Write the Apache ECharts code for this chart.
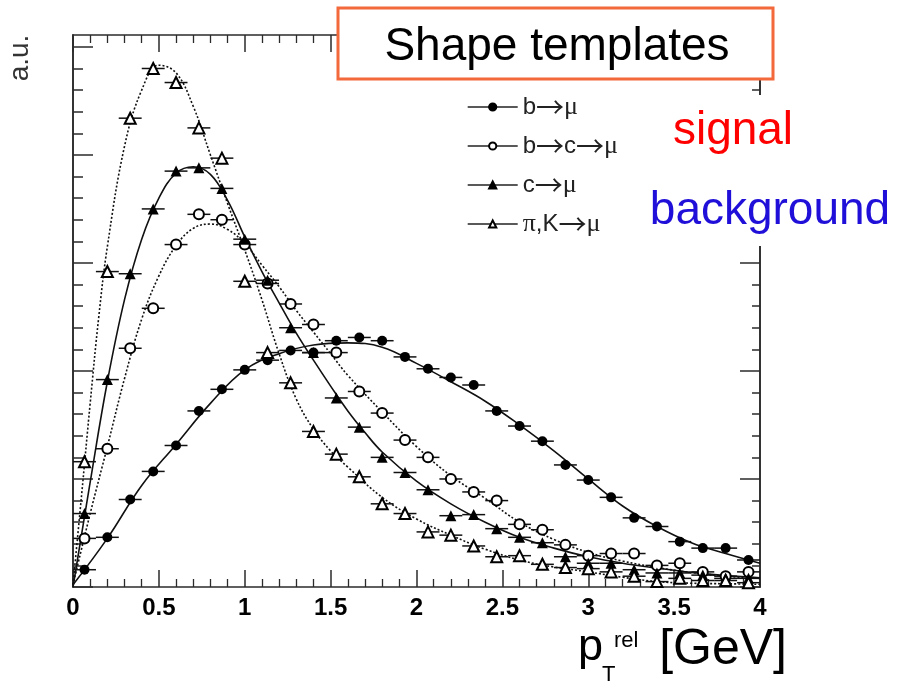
<!DOCTYPE html>
<html>
<head>
<meta charset="utf-8">
<script src="https://cdn.jsdelivr.net/npm/echarts@6/dist/echarts.min.js"></script>
<style>
  html, body { margin: 0; padding: 0; background: #fff; }
  #chart { width: 899px; height: 684px; }
</style>
</head>
<body>
<div id="chart"></div>
<script>
// p_T^rel template histograms: 30 bins of width 4/30 GeV between 0 and 4 GeV
const BIN_CENTERS = [0.067, 0.2, 0.333, 0.467, 0.6, 0.733, 0.867, 1.0, 1.133, 1.267,
                     1.4, 1.533, 1.667, 1.8, 1.933, 2.067, 2.2, 2.333, 2.467, 2.6,
                     2.733, 2.867, 3.0, 3.133, 3.267, 3.4, 3.533, 3.667, 3.8, 3.933];
const BIN_HALF_WIDTH = 0.0667;

// bin contents (arbitrary units)
const B_MU   = [0.16, 0.46, 0.81, 1.07, 1.31, 1.63, 1.83, 2.01, 2.10, 2.19,
                2.17, 2.28, 2.31, 2.28, 2.13, 2.02, 1.94, 1.87, 1.63, 1.49,
                1.35, 1.13, 0.99, 0.83, 0.64, 0.56, 0.42, 0.36, 0.36, 0.25];
const BC_MU  = [0.45, 1.28, 2.21, 2.58, 3.17, 3.45, 3.40, 3.17, 2.81, 2.62,
                2.43, 2.17, 1.81, 1.61, 1.36, 1.20, 1.00, 0.88, 0.80, 0.58,
                0.53, 0.39, 0.29, 0.31, 0.31, 0.20, 0.22, 0.14, 0.10, 0.14];
const C_MU   = [0.68, 1.92, 2.90, 3.50, 3.85, 3.88, 3.69, 3.22, 2.84, 2.40,
                2.17, 1.75, 1.48, 1.20, 1.06, 0.90, 0.66, 0.67, 0.54, 0.46,
                0.41, 0.28, 0.22, 0.22, 0.16, 0.13, 0.13, 0.11, 0.08, 0.08];
const PIK_MU = [1.16, 2.92, 4.34, 4.80, 4.67, 4.25, 3.97, 2.83, 2.17, 1.89,
                1.44, 1.23, 1.02, 0.77, 0.68, 0.51, 0.48, 0.38, 0.28, 0.29,
                0.21, 0.18, 0.17, 0.14, 0.10, 0.05, 0.08, 0.06, 0.06, 0.04];

// fitted template shapes, sampled as [p_T^rel, value]
const FIT_B_MU = [[0, 0.02], [0.2, 0.45], [0.4, 0.94], [0.6, 1.32], [0.8, 1.70], [1.0, 2.01],
                  [1.2, 2.16], [1.4, 2.24], [1.6, 2.26], [1.8, 2.22], [2.0, 2.07], [2.2, 1.90],
                  [2.4, 1.72], [2.6, 1.50], [2.8, 1.26], [3.0, 1.00], [3.2, 0.75], [3.4, 0.56],
                  [3.6, 0.41], [3.8, 0.31], [4.0, 0.22]];
const FIT_BC_MU = [[0, 0.02], [0.1, 0.68], [0.2, 1.30], [0.3, 1.93], [0.4, 2.48], [0.5, 2.88],
                   [0.6, 3.16], [0.7, 3.32], [0.8, 3.36], [0.9, 3.31], [1.0, 3.18], [1.1, 2.98],
                   [1.2, 2.78], [1.3, 2.56], [1.4, 2.36], [1.5, 2.16], [1.6, 1.96], [1.8, 1.62],
                   [2.0, 1.30], [2.2, 1.03], [2.4, 0.82], [2.6, 0.60], [2.8, 0.44], [3.0, 0.32],
                   [3.2, 0.24], [3.4, 0.18], [3.6, 0.135], [3.8, 0.10], [4.0, 0.08]];
const FIT_C_MU = [[0, 0.0], [0.1, 0.97], [0.2, 1.90], [0.3, 2.66], [0.4, 3.22], [0.5, 3.60],
                  [0.6, 3.83], [0.7, 3.89], [0.8, 3.82], [0.9, 3.58], [1.0, 3.24], [1.1, 2.92],
                  [1.2, 2.63], [1.3, 2.35], [1.4, 2.10], [1.5, 1.86], [1.6, 1.63], [1.7, 1.43],
                  [1.8, 1.25], [2.0, 0.98], [2.2, 0.77], [2.4, 0.60], [2.6, 0.46], [2.8, 0.36],
                  [3.0, 0.28], [3.2, 0.22], [3.4, 0.175], [3.6, 0.135], [3.8, 0.105], [4.0, 0.085]];
const FIT_PIK_MU = [[0, 0.02], [0.05, 0.85], [0.1, 1.70], [0.15, 2.50], [0.2, 3.15], [0.3, 4.08],
                    [0.4, 4.60], [0.5, 4.83], [0.6, 4.76], [0.7, 4.45], [0.8, 4.00], [0.9, 3.55],
                    [1.0, 3.12], [1.1, 2.66], [1.2, 2.16], [1.3, 1.74], [1.4, 1.46], [1.5, 1.26],
                    [1.6, 1.11], [1.8, 0.83], [2.0, 0.63], [2.2, 0.48], [2.4, 0.35], [2.6, 0.25],
                    [2.8, 0.185], [3.0, 0.14], [3.2, 0.09], [3.4, 0.05], [3.6, 0.035], [3.8, 0.03],
                    [4.0, 0.025]];

// axis ranges and tick positions
const X_MIN = 0, X_MAX = 4, X_STEP = 0.5;
const Y_MIN = 0, Y_MAX = 5.11;
const Y_MAJOR_TICKS = [0, 1, 2, 3, 4, 5];
const Y_MINOR_TICKS = [0.2, 0.4, 0.6, 0.8, 1.2, 1.4, 1.6, 1.8, 2.2, 2.4, 2.6, 2.8,
                       3.2, 3.4, 3.6, 3.8, 4.2, 4.4, 4.6, 4.8];

const FONT = "'Liberation Sans', Arial, Helvetica, sans-serif";
const INK = '#2b2b2b';

const TEMPLATES = [
  { name: 'b→μ',    points: B_MU,   fit: FIT_B_MU,   symbol: 'circle',        size: 10, dash: 'solid' },
  { name: 'b→c→μ',  points: BC_MU,  fit: FIT_BC_MU,  symbol: 'emptyCircle',   size: 10, dash: [2, 2] },
  { name: 'c→μ',    points: C_MU,   fit: FIT_C_MU,   symbol: 'triangle',      size: 11, dash: 'solid' },
  { name: 'π,K→μ',  points: PIK_MU, fit: FIT_PIK_MU, symbol: 'emptyTriangle', size: 11, dash: [2, 2] }
];

const fitSeries = TEMPLATES.map(t => ({
  name: t.name,
  type: 'line',
  data: t.fit,
  smooth: 0.4,
  showSymbol: false,
  symbol: t.symbol,
  silent: true,
  z: 2,
  itemStyle: { color: '#000', borderColor: '#000', borderWidth: 1.5 },
  lineStyle: { color: '#111', width: 1.6, type: t.dash }
}));

const errorBarSeries = TEMPLATES.map(t => ({
  name: t.name,
  type: 'custom',
  z: 3,
  silent: true,
  data: BIN_CENTERS.map((x, i) => [x, t.points[i]]),
  renderItem: (params, api) => {
    const x = api.value(0), y = api.value(1);
    const a = api.coord([x - BIN_HALF_WIDTH, y]);
    const b = api.coord([x + BIN_HALF_WIDTH, y]);
    return {
      type: 'line',
      shape: { x1: a[0], y1: a[1], x2: b[0], y2: b[1] },
      style: { stroke: '#111', lineWidth: 1.5 }
    };
  }
}));

const markerSeries = TEMPLATES.map(t => ({
  name: t.name,
  type: 'scatter',
  z: 4,
  silent: true,
  symbol: t.symbol,
  symbolSize: t.size,
  data: BIN_CENTERS.map((x, i) => [x, t.points[i]]),
  itemStyle: {
    color: '#000',
    borderColor: '#000',
    borderWidth: t.symbol.indexOf('empty') === 0 ? 2 : 0,
    opacity: 1
  }
}));

function xAxisSpec(position, showLabels) {
  return {
    type: 'value', position, min: X_MIN, max: X_MAX, interval: X_STEP,
    axisLine: { show: true, onZero: false, lineStyle: { color: INK, width: 1.6 } },
    axisTick: { show: true, inside: true, length: 17, lineStyle: { color: INK, width: 1.5 } },
    minorTick: { show: true, splitNumber: 5, length: 8, lineStyle: { color: INK, width: 1.3 } },
    splitLine: { show: false },
    minorSplitLine: { show: false },
    axisLabel: {
      show: showLabels, margin: 9, color: '#000', fontSize: 24, fontWeight: 'bold',
      fontFamily: FONT, formatter: v => String(v)
    }
  };
}

function yAxisSpec(position, ticks, length) {
  return {
    type: 'value', position, min: Y_MIN, max: Y_MAX,
    axisLine: { show: true, onZero: false, lineStyle: { color: INK, width: 1.6 } },
    axisTick: { show: true, inside: true, length, customValues: ticks,
                lineStyle: { color: INK, width: 1.5 } },
    minorTick: { show: false },
    splitLine: { show: false },
    axisLabel: { show: false }
  };
}

// legend labels: long thin arrows and symbol-font Greek letters
function legendLabel(name) {
  return name.split(/(→|μ|π)/).filter(s => s).map(s => {
    if (s === '→') return '{arr|→}';
    if (s === 'μ' || s === 'π') return '{gr|' + s + '}';
    return '{t|' + s + '}';
  }).join('');
}

const chart = echarts.init(document.getElementById('chart'), null, { renderer: 'canvas' });

chart.setOption({
  animation: false,
  backgroundColor: '#fff',
  grid: { left: 73, right: 139, top: 35, bottom: 97, containLabel: false },
  xAxis: [xAxisSpec('bottom', true), xAxisSpec('top', false)],
  yAxis: [
    yAxisSpec('left', Y_MAJOR_TICKS, 20),
    yAxisSpec('left', Y_MINOR_TICKS, 10),
    yAxisSpec('right', Y_MAJOR_TICKS, 20),
    yAxisSpec('right', Y_MINOR_TICKS, 8)
  ],
  legend: {
    data: TEMPLATES.map(t => t.name),
    orient: 'vertical',
    left: 462, top: 88,
    itemWidth: 50, itemHeight: 9, itemGap: 11,
    selectedMode: false,
    lineStyle: { type: 'solid', color: '#222', width: 1.4 },
    formatter: legendLabel,
    textStyle: {
      fontFamily: FONT, fontSize: 24, color: '#222', lineHeight: 27,
      rich: {
        t:   { fontFamily: FONT, fontSize: 24, color: '#222', lineHeight: 27, height: 27,
               verticalAlign: 'middle' },
        arr: { fontFamily: "'Noto Sans CJK JP', 'DejaVu Sans', sans-serif", fontSize: 28,
               color: '#222', lineHeight: 27, height: 27, verticalAlign: 'middle' },
        gr:  { fontFamily: "'Liberation Serif', 'DejaVu Serif', serif", fontSize: 26, color: '#222',
               lineHeight: 27, height: 27, verticalAlign: 'middle' }
      }
    }
  },
  series: [...fitSeries, ...errorBarSeries, ...markerSeries],
  graphic: [
    // white patch where the side labels sit over the right frame
    { type: 'rect', z: 50, silent: true, shape: { x: 736, y: 95, width: 36, height: 151 },
      style: { fill: '#fff' } },
    { type: 'rect', z: 60, silent: true, shape: { x: 338, y: 8, width: 435, height: 71 },
      style: { fill: '#fff', stroke: '#f3693c', lineWidth: 3 } },
    { type: 'text', z: 61, silent: true, x: 557, y: 47,
      style: { text: 'Shape templates', fontFamily: FONT, fontSize: 46, fill: '#000',
               align: 'center', verticalAlign: 'middle' } },
    { type: 'text', z: 61, silent: true, x: 733, y: 131,
      style: { text: 'signal', fontFamily: FONT, fontSize: 46, fill: '#ff0000',
               align: 'center', verticalAlign: 'middle' } },
    { type: 'text', z: 61, silent: true, x: 770, y: 211,
      style: { text: 'background', fontFamily: FONT, fontSize: 46, fill: '#1f0fd8',
               align: 'center', verticalAlign: 'middle' } },
    { type: 'text', z: 61, silent: true, x: 20, y: 58, rotation: Math.PI / 2,
      style: { text: 'a.u.', fontFamily: FONT, fontSize: 28, fill: '#333',
               align: 'center', verticalAlign: 'middle' } },
    // axis title p_T^rel [GeV]
    { type: 'text', z: 61, silent: true, x: 578, y: 648,
      style: { text: 'p', fontFamily: FONT, fontSize: 45, fill: '#000',
               align: 'left', verticalAlign: 'middle' } },
    { type: 'text', z: 61, silent: true, x: 602, y: 675,
      style: { text: 'T', fontFamily: FONT, fontSize: 22, fill: '#000',
               align: 'left', verticalAlign: 'middle' } },
    { type: 'text', z: 61, silent: true, x: 614, y: 641,
      style: { text: 'rel', fontFamily: FONT, fontSize: 22, fill: '#000',
               align: 'left', verticalAlign: 'middle' } },
    { type: 'text', z: 61, silent: true, x: 787, y: 650,
      style: { text: '[GeV]', fontFamily: FONT, fontSize: 50, fill: '#000',
               align: 'right', verticalAlign: 'middle' } }
  ]
});
</script>
</body>
</html>
